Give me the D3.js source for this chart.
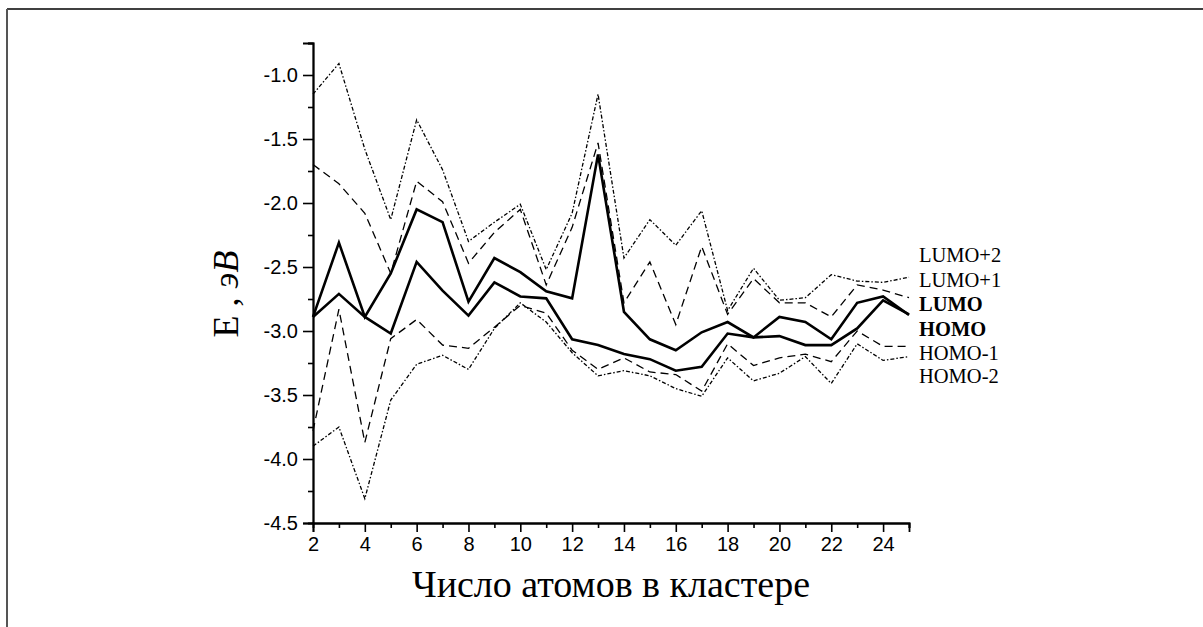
<!DOCTYPE html>
<html>
<head>
<meta charset="utf-8">
<script src="https://cdn.jsdelivr.net/npm/d3@7"></script>
<style>
  body { margin: 0; background: #fff; }
  .tick-label { font-family: "Liberation Sans", Arial, sans-serif; font-size: 20px; fill: #000; }
  .title { font-family: "Liberation Serif", "Times New Roman", serif; fill: #000; }
  .legend-label { font-family: "Liberation Serif", "Times New Roman", serif; font-size: 20.5px; fill: #000; }
</style>
</head>
<body>
<svg id="chart" width="1203" height="627"></svg>
<script>
// cluster size (atoms)
var atoms = d3.range(2, 26)

// orbital energies, eV
var lumo2 = [-1.15, -0.91, -1.58, -2.13, -1.35, -1.74, -2.30, -2.15, -2.01, -2.52, -2.08, -1.15, -2.43, -2.13, -2.33, -2.06, -2.84, -2.51, -2.76, -2.74, -2.56, -2.61, -2.62, -2.58]
var lumo1 = [-1.70, -1.85, -2.08, -2.55, -1.83, -1.99, -2.47, -2.23, -2.05, -2.64, -2.19, -1.53, -2.78, -2.46, -2.95, -2.34, -2.87, -2.59, -2.78, -2.78, -2.89, -2.64, -2.68, -2.74]
var lumo  = [-2.89, -2.31, -2.89, -2.55, -2.05, -2.15, -2.77, -2.43, -2.54, -2.69, -2.745, -1.62, -2.85, -3.065, -3.15, -3.01, -2.93, -3.05, -2.89, -2.93, -3.065, -2.78, -2.73, -2.875]
var homo  = [-2.89, -2.71, -2.89, -3.02, -2.46, -2.685, -2.88, -2.62, -2.73, -2.745, -3.065, -3.11, -3.18, -3.22, -3.31, -3.28, -3.02, -3.05, -3.04, -3.11, -3.11, -2.98, -2.76, -2.87]
var homo1 = [-3.78, -2.83, -3.87, -3.06, -2.91, -3.11, -3.135, -2.97, -2.80, -2.86, -3.15, -3.30, -3.21, -3.32, -3.34, -3.47, -3.10, -3.27, -3.21, -3.18, -3.24, -3.00, -3.12, -3.12]
var homo2 = [-3.90, -3.75, -4.31, -3.54, -3.26, -3.19, -3.30, -2.98, -2.78, -2.93, -3.17, -3.35, -3.31, -3.35, -3.45, -3.51, -3.21, -3.39, -3.33, -3.20, -3.41, -3.10, -3.23, -3.20]

var xTicks = [2, 4, 6, 8, 10, 12, 14, 16, 18, 20, 22, 24]
var yTicks = [-4.5, -4.0, -3.5, -3.0, -2.5, -2.0, -1.5, -1.0]

var legendNames = ["LUMO+2", "LUMO+1", "LUMO", "HOMO", "HOMO-1", "HOMO-2"]

// line styles per series
var series = [
    { values: lumo2, width: 1.3, dash: "4,2,1.5,2" },
    { values: lumo1, width: 1.3, dash: "8,5" },
    { values: lumo,  width: 2.6, dash: null },
    { values: homo,  width: 2.6, dash: null },
    { values: homo1, width: 1.3, dash: "8,5" },
    { values: homo2, width: 1.3, dash: "4,2,1.5,2" }
]

var svg = d3.select("#chart")

// frame around the figure
svg.append("line").attr("x1", 7).attr("x2", 1203).attr("y1", 9).attr("y2", 9)
    .attr("stroke", "#000").attr("stroke-width", 1.5)
svg.append("line").attr("x1", 7).attr("x2", 7).attr("y1", 9).attr("y2", 627)
    .attr("stroke", "#555").attr("stroke-width", 2)

var x = d3.scaleLinear().domain([2, 25]).range([313, 909])
var y = d3.scaleLinear().domain([-4.5, -0.75]).range([523, 43])

// axes: major ticks with labels, minor ticks without
var xAxis = svg.append("g").attr("transform", "translate(0," + y(-4.5) + ")")
xAxis.call(d3.axisBottom(x).tickValues(d3.range(3, 26, 2)).tickSize(5).tickFormat(""))
xAxis.call(g => g.append("g").call(d3.axisBottom(x).tickValues(xTicks).tickSize(9).tickPadding(5).tickFormat(d => String(d))))

var yAxis = svg.append("g").attr("transform", "translate(" + x(2) + ",0)")
yAxis.call(d3.axisLeft(y).tickValues(d3.range(-4.25, -0.7, 0.5)).tickSize(5).tickFormat(""))
yAxis.call(g => g.append("g").call(d3.axisLeft(y).tickValues(yTicks).tickSize(10).tickPadding(5).tickFormat(d => d.toFixed(1))))

svg.selectAll(".domain").attr("stroke", "#000").attr("stroke-width", 1.8)
svg.selectAll(".tick line").attr("stroke", "#000").attr("stroke-width", 1.6)
svg.selectAll(".tick text").attr("class", "tick-label").attr("font-size", null).attr("font-family", null)

// series lines
var line = d3.line()
    .x((d, i) => x(atoms[i]))
    .y(d => y(d))

svg.append("g").selectAll("path")
    .data(series)
    .enter().append("path")
    .attr("d", d => line(d.values))
    .attr("fill", "none")
    .attr("stroke", "#000")
    .attr("stroke-width", d => d.width)
    .attr("stroke-dasharray", d => d.dash)
    .attr("stroke-linejoin", "miter")

// legend labels next to the line ends
var legendY = [262, 287, 311, 336, 360, 383]
svg.append("g").selectAll("text")
    .data(legendNames)
    .enter().append("text")
    .attr("class", "legend-label")
    .attr("x", 919)
    .attr("y", (d, i) => legendY[i])
    .style("font-weight", d => (d === "LUMO" || d === "HOMO") ? "bold" : "normal")
    .text(d => d)

// axis titles
svg.append("text")
    .attr("class", "title")
    .attr("x", (x(2) + x(25)) / 2)
    .attr("y", 597)
    .attr("text-anchor", "middle")
    .style("font-size", "38px")
    .text("Число атомов в кластере")

var yTitle = svg.append("text")
    .attr("class", "title")
    .attr("transform", "translate(238,294) rotate(-90)")
    .attr("text-anchor", "middle")
    .style("font-size", "36px")
yTitle.append("tspan").text("E , ")
yTitle.append("tspan").style("font-style", "italic").text("эB")
</script>
</body>
</html>
